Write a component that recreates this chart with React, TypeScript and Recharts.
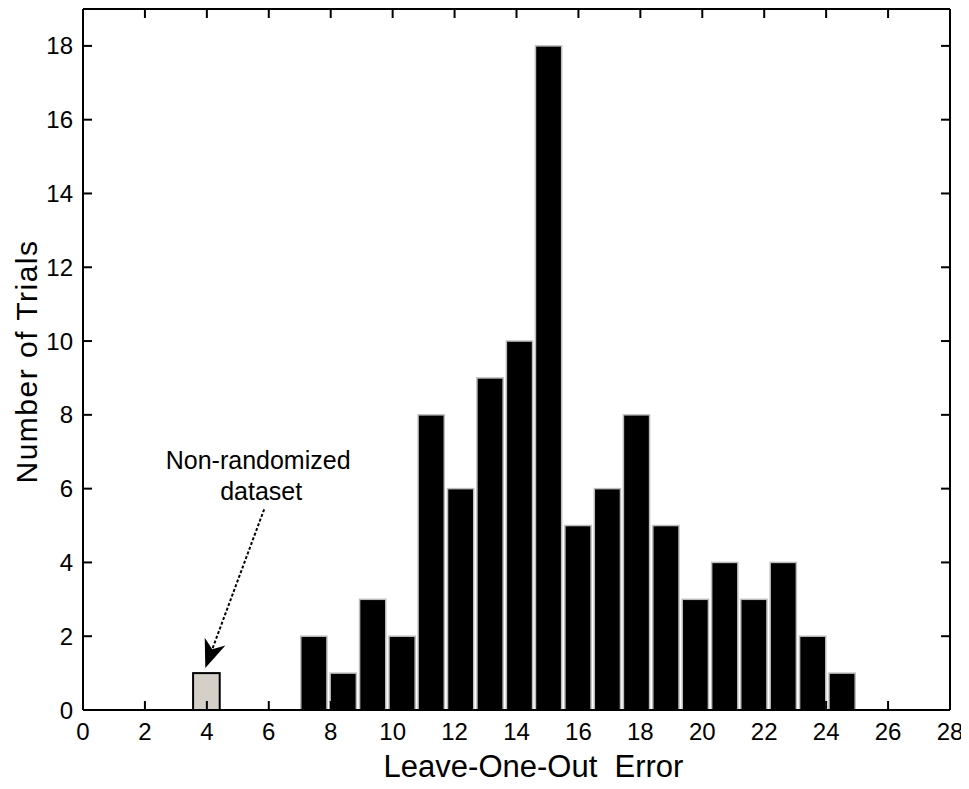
import React from 'react';
import { BarChart, Bar, XAxis, YAxis, Cell, ReferenceLine } from 'recharts';

// histogram of leave-one-out errors over randomized trials (19 bins from 7 to 25)
const binCenters = [
  7.47, 8.42, 9.37, 10.32, 11.26, 12.21, 13.16, 14.11, 15.05, 16.0, 16.95,
  17.89, 18.84, 19.79, 20.74, 21.68, 22.63, 23.58, 24.53,
];
const trialCounts = [2, 1, 3, 2, 8, 6, 9, 10, 18, 5, 6, 8, 5, 3, 4, 3, 4, 2, 1];

// the single non-randomized dataset
const nonRandomError = 4;
const nonRandomCount = 1;

const xTicks = [0, 2, 4, 6, 8, 10, 12, 14, 16, 18, 20, 22, 24, 26, 28];
const yTicks = [0, 2, 4, 6, 8, 10, 12, 14, 16, 18];

// arrow from the note down to the gray bar (data coords)
const arrowFrom = { x: 5.85, y: 5.44 };
const arrowTo = { x: 3.95, y: 1.14 };

const data = [
  { err: nonRandomError, count: nonRandomCount, kind: 'nonrandom' },
  ...binCenters.map((c, i) => ({ err: c, count: trialCounts[i], kind: 'random' })),
];

const W = 955;
const H = 781;
const margin = { top: 0, right: 12, left: 0, bottom: 0 };
const yAxisW = 75;
const xAxisH = 79;
const plotW = W - margin.left - margin.right - 1 - yAxisW;
const unit = plotW / 28;
const binW = 18 / 19;
const grayW = 0.86;

const font = '"Liberation Sans", Arial, sans-serif';
const tickStyle = { fontSize: 24, fill: '#000', fontFamily: font };

const BarShape = (props: any) => {
  const { x, y, width, height, payload } = props;
  if (!height || height <= 0) return null;
  if (payload.kind === 'nonrandom') {
    const w = grayW * unit;
    const cx = x + width / 2;
    return (
      <rect x={cx - w / 2} y={y} width={w} height={height} fill='#d4d0c8' stroke='#000' strokeWidth={2} />
    );
  }
  return <rect x={x} y={y} width={width} height={height} fill='#000' stroke='#bdbdbd' strokeWidth={1.5} />;
};

const ArrowShape = (props: any) => {
  const { x1, y1, x2, y2 } = props;
  const dx = x2 - x1;
  const dy = y2 - y1;
  const len = Math.sqrt(dx * dx + dy * dy);
  const ux = dx / len;
  const uy = dy / len;
  const px = -uy;
  const py = ux;
  const bx = x2 - 28 * ux;
  const by = y2 - 28 * uy;
  const nx = x2 - 20 * ux;
  const ny = y2 - 20 * uy;
  const head = [
    [x2, y2],
    [bx + 11 * px, by + 11 * py],
    [nx, ny],
    [bx - 11 * px, by - 11 * py],
  ]
    .map((p) => p.join(','))
    .join(' ');
  return (
    <g>
      <line x1={x1} y1={y1} x2={nx} y2={ny} stroke='#000' strokeWidth={2} strokeDasharray='3 2' />
      <polygon points={head} fill='#000' />
      <text x={x1 - 6} y={y1 - 40} textAnchor='middle' fontSize={25} fontFamily={font} fill='#000'>
        Non-randomized
      </text>
      <text x={x1 - 3} y={y1 - 9} textAnchor='middle' fontSize={25} fontFamily={font} fill='#000'>
        dataset
      </text>
    </g>
  );
};

const XLabel = (props: any) => {
  const { x, y, width } = props.viewBox;
  return (
    <text x={x + width / 2 + 17} y={y + 67} textAnchor='middle' fontSize={31} fontFamily={font} fill='#000' style={{ whiteSpace: 'pre' }}>
      {'Leave-One-Out  Error'}
    </text>
  );
};

const YLabel = (props: any) => {
  const { x, y, height } = props.viewBox;
  const cx = x + 18;
  const cy = y + height / 2 + 2;
  return (
    <text
      x={cx}
      y={cy}
      transform={`rotate(-90 ${cx} ${cy})`}
      textAnchor='middle'
      dominantBaseline='central'
      fontSize={30}
      letterSpacing={1.5}
      fontFamily={font}
      fill='#000'
    >
      Number of Trials
    </text>
  );
};

const NoTick = () => <g />;

export default function App() {
  const axisLine = { stroke: '#000', strokeWidth: 2 };
  const tickLine = { stroke: '#000', strokeWidth: 2 };
  return (
    <div style={{ width: W, height: H, background: '#fff' }}>
      <BarChart width={W} height={H} data={data} margin={margin} barCategoryGap={0} barGap={0}>
        <XAxis
          dataKey='err'
          type='number'
          domain={[0, 28]}
          ticks={xTicks}
          interval={0}
          allowDataOverflow
          height={xAxisH}
          axisLine={axisLine}
          tickLine={tickLine}
          tickSize={-9}
          tickMargin={22}
          tick={tickStyle}
          label={XLabel}
        />
        <XAxis
          xAxisId='top'
          orientation='top'
          dataKey='err'
          type='number'
          domain={[0, 28]}
          ticks={xTicks}
          interval={0}
          allowDataOverflow
          height={1}
          axisLine={axisLine}
          tickLine={tickLine}
          tickSize={-9}
          tick={NoTick}
        />
        <YAxis
          type='number'
          domain={[0, 19]}
          ticks={yTicks}
          interval={0}
          allowDataOverflow
          width={yAxisW}
          axisLine={axisLine}
          tickLine={tickLine}
          tickSize={-9}
          tickMargin={19}
          tick={tickStyle}
          label={YLabel}
        />
        <YAxis
          yAxisId='right'
          orientation='right'
          type='number'
          domain={[0, 19]}
          ticks={yTicks}
          interval={0}
          allowDataOverflow
          width={1}
          axisLine={axisLine}
          tickLine={tickLine}
          tickSize={-9}
          tick={NoTick}
        />
        <Bar dataKey='count' barSize={binW * unit} shape={BarShape} isAnimationActive={false}>
          {data.map((d, i) => (
            <Cell key={i} fill={d.kind === 'nonrandom' ? '#d4d0c8' : '#000'} />
          ))}
        </Bar>
        <ReferenceLine segment={[arrowFrom, arrowTo]} shape={ArrowShape} ifOverflow='visible' />
      </BarChart>
    </div>
  );
}
